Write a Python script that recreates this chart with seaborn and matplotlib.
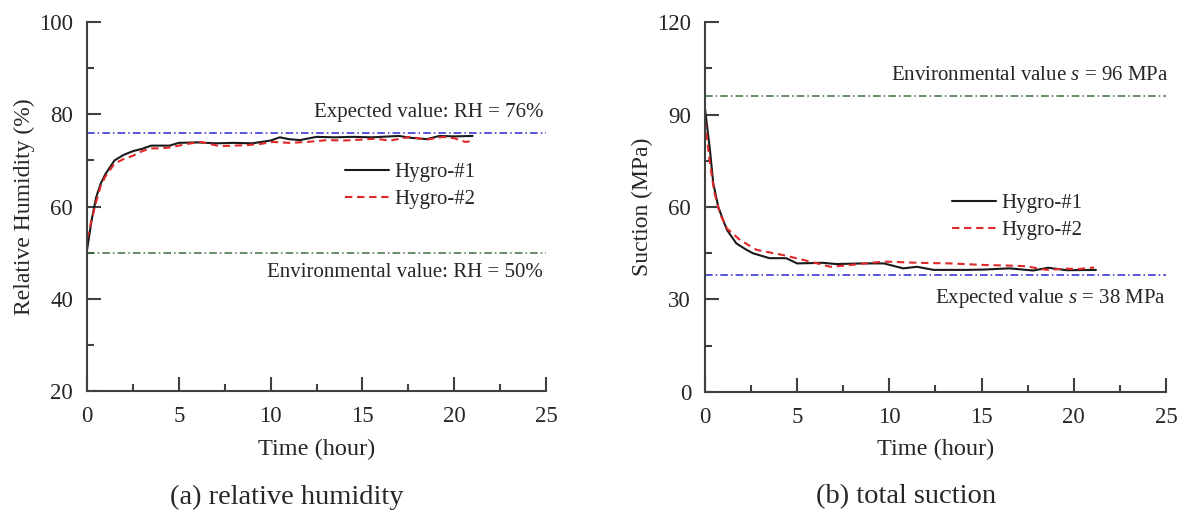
import matplotlib
matplotlib.use("Agg")
import matplotlib.pyplot as plt
import seaborn as sns
from matplotlib.ticker import MultipleLocator

# (a) relative humidity, %
rh_t1 = [0, 0.25, 0.5, 0.75, 1.0, 1.5, 2.0, 2.5, 3.0, 3.5, 4.0, 4.5, 5.0, 6.0, 7.0, 8.0,
         9.0, 9.5, 10.0, 10.5, 11.0, 11.6, 12.5, 13.5, 14.5, 15.5, 16.0, 17.0, 17.6,
         18.5, 19.2, 20.0, 21.0]
rh_h1 = [50.5, 57, 62, 65, 67, 70, 71.2, 72, 72.5, 73.2, 73.2, 73.2, 73.8, 73.9, 73.7, 73.8,
         73.7, 74.0, 74.3, 75.0, 74.6, 74.4, 75.1, 75.0, 75.1, 75.0, 75.1, 75.3, 74.9,
         74.6, 75.3, 75.2, 75.3]
rh_t2 = [0, 0.25, 0.5, 0.75, 1.0, 1.5, 2.0, 2.5, 3.0, 3.5, 4.0, 4.5, 5.0, 5.5, 6.2, 7.2,
         8.0, 8.7, 9.5, 10.1, 11.0, 12.0, 13.1, 14.0, 14.9, 15.7, 16.5, 17.6, 18.5, 19.4,
         20.0, 20.6, 21.0]
rh_h2 = [53, 57, 61, 64.5, 66.5, 69.3, 70.3, 71, 72, 72.6, 72.6, 72.8, 73.2, 73.6, 74.0, 73.1,
         73.2, 73.3, 73.6, 74.0, 73.8, 74.0, 74.4, 74.3, 74.5, 74.7, 74.3, 75.1, 74.5, 75.1,
         74.8, 74.0, 74.2]

# (b) total suction, MPa
s_t1 = [0, 0.27, 0.45, 0.72, 1.0, 1.2, 1.7, 2.2, 2.6, 3.5, 4.4, 5.0, 6.4, 7.1, 8.6, 9.7,
        10.75, 11.5, 12.4, 14.2, 15.1, 16.5, 17.8, 18.6, 19.6, 21.2]
s_h1 = [92, 78.5, 67.7, 60.1, 55.5, 52.5, 48.2, 46.3, 45.0, 43.4, 43.4, 41.7, 41.9, 41.5, 41.7, 41.7,
        40.1, 40.6, 39.6, 39.6, 39.7, 40.1, 39.4, 40.3, 39.5, 39.6]
s_t2 = [0, 0.25, 0.5, 0.8, 1.2, 1.9, 2.8, 4.25, 5.7, 6.8, 7.9, 9.7, 11.5, 13.3, 15.1, 16.5,
        17.4, 18.3, 18.6, 19.5, 20.3, 21.1]
s_h2 = [88, 75, 65, 58, 53, 49.3, 46.1, 44.4, 42.3, 40.6, 41.2, 42.3, 41.9, 41.7, 41.2, 41.0,
        40.8, 39.8, 39.6, 40.0, 39.9, 40.4]

rh_expected, rh_env = 76, 50
s_expected, s_env = 38, 96

sns.set_style("ticks")
plt.rcParams["font.family"] = ["Liberation Serif", "DejaVu Serif"]
plt.rcParams["mathtext.fontset"] = "custom"
plt.rcParams["mathtext.rm"] = "Liberation Serif"
plt.rcParams["mathtext.it"] = "Liberation Serif:italic"

spine_c = "#404040"
dashdot = (0, (5, 2, 1, 2))
dashed = (0, (3.5, 2.3))

fig = plt.figure(figsize=(11.85, 5.13), dpi=100)
ax1 = fig.add_axes([0.0734, 0.2378, 0.3874, 0.7193])
ax2 = fig.add_axes([0.5949, 0.2359, 0.3891, 0.7212])


def style_axis(ax, ymaj, ylabel):
    ax.set_xlim(0, 25)
    ax.xaxis.set_major_locator(MultipleLocator(5))
    ax.xaxis.set_minor_locator(MultipleLocator(2.5))
    ax.yaxis.set_major_locator(MultipleLocator(ymaj))
    ax.yaxis.set_minor_locator(MultipleLocator(ymaj / 2))
    ax.tick_params(which="both", direction="in", color=spine_c, width=1.5, labelsize=16.5)
    ax.tick_params(which="major", length=10)
    ax.tick_params(which="minor", length=5)
    ax.tick_params(axis="x", which="both", pad=11)
    ax.tick_params(axis="y", which="both", pad=10)
    for side in ["top", "right"]:
        ax.spines[side].set_visible(False)
    for side in ["left", "bottom"]:
        ax.spines[side].set_color(spine_c)
        ax.spines[side].set_linewidth(1.5)
    ax.set_xlabel("Time (hour)", fontsize=17.5, labelpad=8)
    ax.set_ylabel(ylabel, fontsize=17, labelpad=3)


# panel (a)
sns.lineplot(x=rh_t1, y=rh_h1, ax=ax1, color="#1a1a1a", linewidth=1.5, sort=False, label="Hygro-#1")
sns.lineplot(x=rh_t2, y=rh_h2, ax=ax1, color="#e02828", linewidth=1.5, sort=False,
             linestyle=dashed, label="Hygro-#2")
ax1.axhline(rh_expected, color="#2a2ad0", linewidth=1.1, linestyle=dashdot)
ax1.axhline(rh_env, color="#3d6e3d", linewidth=1.1, linestyle=dashdot)
ax1.set_ylim(20, 100)
style_axis(ax1, 20, "Relative Humidity (%)")
ax1.text(24.84, 80.3, "Expected value: RH = 76%", ha="right", va="center", fontsize=15)
ax1.text(24.84, 45.6, "Environmental value: RH = 50%", ha="right", va="center", fontsize=15)
ax1.legend(loc="center left", bbox_to_anchor=(0.562, 0.556), frameon=False, fontsize=15,
           handlelength=2.1, handletextpad=0.25, labelspacing=0.35, borderpad=0, borderaxespad=0)

# panel (b)
sns.lineplot(x=s_t1, y=s_h1, ax=ax2, color="#1a1a1a", linewidth=1.5, sort=False, label="Hygro-#1")
sns.lineplot(x=s_t2, y=s_h2, ax=ax2, color="#e02828", linewidth=1.5, sort=False,
             linestyle=dashed, label="Hygro-#2")
ax2.axhline(s_expected, color="#2a2ad0", linewidth=1.1, linestyle=dashdot)
ax2.axhline(s_env, color="#3d6e3d", linewidth=1.1, linestyle=dashdot)
ax2.set_ylim(0, 120)
style_axis(ax2, 30, "Suction (MPa)")
ax2.text(25.1, 102.5, "Environmental value $s$ = 96 MPa", ha="right", va="center", fontsize=15)
ax2.text(25.0, 30.2, "Expected value $s$ = 38 MPa", ha="right", va="center", fontsize=15)
ax2.legend(loc="center left", bbox_to_anchor=(0.536, 0.474), frameon=False, fontsize=15,
           handlelength=2.1, handletextpad=0.25, labelspacing=0.35, borderpad=0, borderaxespad=0)

fig.text(0.242, 0.031, "(a) relative humidity", ha="center", va="center", fontsize=20.5)
fig.text(0.765, 0.031, "(b) total suction", ha="center", va="center", fontsize=20.5)

fig.savefig("out.png", dpi=100)
